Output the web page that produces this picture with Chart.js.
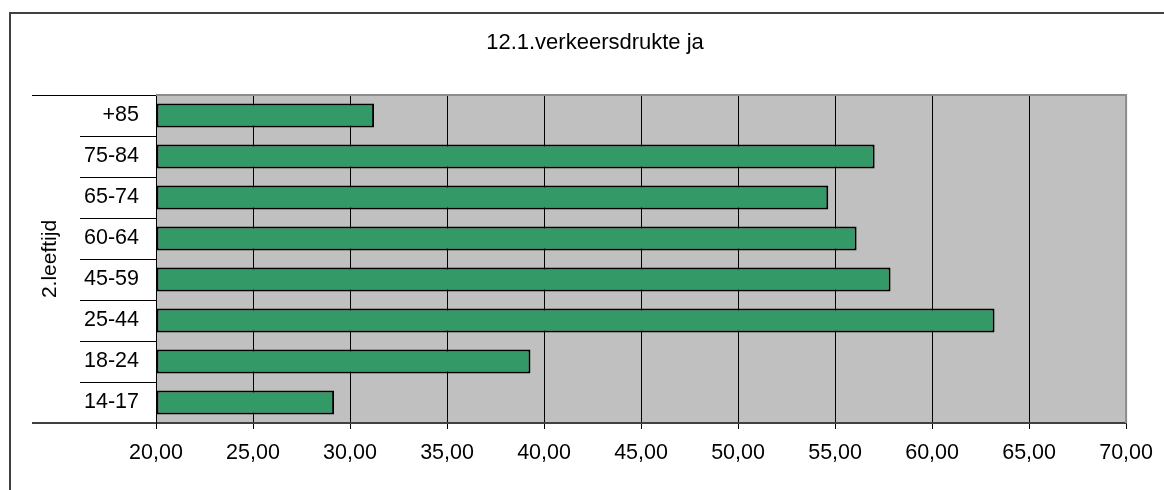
<!DOCTYPE html>
<html>
<head>
<meta charset="utf-8">
<title>12.1.verkeersdrukte ja</title>
<script src="https://cdn.jsdelivr.net/npm/chart.js@4/dist/chart.umd.min.js"></script>
<style>
  html, body { margin: 0; padding: 0; background: #fff; }
  #wrap { width: 1164px; height: 490px; }
</style>
</head>
<body>
<div id="wrap"><canvas id="grafiek" width="1164" height="490"></canvas></div>
<script>
// leeftijdsgroepen, van boven naar beneden
const leeftijden = ['+85', '75-84', '65-74', '60-64', '45-59', '25-44', '18-24', '14-17'];
// percentage "verkeersdrukte ja" per leeftijdsgroep
const percentages = [31.24, 57.04, 54.65, 56.11, 57.86, 63.22, 39.30, 29.18];
// schaal van de x-as
const asMin = 20;
const asMax = 70;
const asStap = 5;

const titel = '12.1.verkeersdrukte ja';
const asTitel = '2.leeftijd';

const lettertype = 'Arial, "Liberation Sans", sans-serif';

// Excel-achtige opmaak: grijze plotachtergrond, kader, titel en verlengde lijnen
const kader = {
    id: 'kader',
    beforeDraw(chart) {
        const ctx = chart.ctx;
        const ca = chart.chartArea;
        ctx.save();
        ctx.fillStyle = '#ffffff';
        ctx.fillRect(0, 0, chart.width, chart.height);
        ctx.fillStyle = '#c0c0c0';
        ctx.fillRect(ca.left, ca.top, ca.right - ca.left, ca.bottom - ca.top);

        // rand rond de hele grafiek (loopt buiten beeld door)
        ctx.strokeStyle = '#404040';
        ctx.lineWidth = 2;
        ctx.beginPath();
        ctx.moveTo(10, chart.height);
        ctx.lineTo(10, 13);
        ctx.lineTo(chart.width, 13);
        ctx.stroke();

        // titel
        ctx.fillStyle = '#000';
        ctx.font = '22px ' + lettertype;
        ctx.textAlign = 'center';
        ctx.textBaseline = 'alphabetic';
        ctx.fillText(titel, 595, 49);
        ctx.restore();
    },
    afterDraw(chart) {
        const ctx = chart.ctx;
        const ca = chart.chartArea;
        ctx.save();
        // grijze rand boven en rechts van het plotvlak
        ctx.strokeStyle = '#8c8c8c';
        ctx.lineWidth = 2;
        ctx.beginPath();
        ctx.moveTo(ca.left, ca.top);
        ctx.lineTo(ca.right, ca.top);
        ctx.lineTo(ca.right, ca.bottom);
        ctx.stroke();

        // boven- en onderlijn van de categorie-as lopen verder naar links
        ctx.strokeStyle = '#000';
        ctx.lineWidth = 1;
        ctx.beginPath();
        ctx.moveTo(32, ca.top + 0.5);
        ctx.lineTo(ca.left, ca.top + 0.5);
        ctx.stroke();
        ctx.strokeStyle = '#404040';
        ctx.lineWidth = 2;
        ctx.beginPath();
        ctx.moveTo(32, ca.bottom);
        ctx.lineTo(ca.left, ca.bottom);
        ctx.stroke();
        ctx.restore();
    }
};

new Chart(document.getElementById('grafiek'), {
    type: 'bar',
    data: {
        labels: leeftijden,
        datasets: [{
            data: percentages,
            base: asMin,
            backgroundColor: '#339966',
            borderColor: '#000',
            borderWidth: 2,
            borderSkipped: false,
            categoryPercentage: 1,
            barPercentage: 0.585
        }]
    },
    options: {
        indexAxis: 'y',
        responsive: false,
        animation: false,
        devicePixelRatio: 1,
        layout: {
            padding: { top: 95, left: 10, right: 37, bottom: 0 }
        },
        font: { family: lettertype, size: 21 },
        plugins: {
            legend: { display: false },
            title: { display: false },
            tooltip: { enabled: false }
        },
        scales: {
            x: {
                type: 'linear',
                min: asMin,
                max: asMax,
                ticks: {
                    stepSize: asStap,
                    padding: 11,
                    color: '#000',
                    maxRotation: 0,
                    autoSkip: false,
                    font: { family: lettertype, size: 21.5 },
                    callback: v => v.toFixed(2).replace('.', ',')
                },
                grid: { color: '#000', lineWidth: 1, tickLength: 6 },
                border: { color: '#404040', width: 2 },
                afterFit: s => { s.height = 67; }
            },
            y: {
                type: 'category',
                ticks: {
                    padding: -59,
                    color: '#000',
                    autoSkip: false,
                    font: { family: lettertype, size: 21.5 }
                },
                grid: { offset: true, drawOnChartArea: false, tickLength: 76, color: '#000' },
                border: { color: '#000', width: 1 },
                title: {
                    display: true,
                    text: asTitel,
                    color: '#000',
                    font: { family: lettertype, size: 21 },
                    padding: { top: 28, bottom: 0 }
                },
                afterFit: s => { s.width = 146; }
            }
        }
    },
    plugins: [kader]
});
</script>
</body>
</html>
